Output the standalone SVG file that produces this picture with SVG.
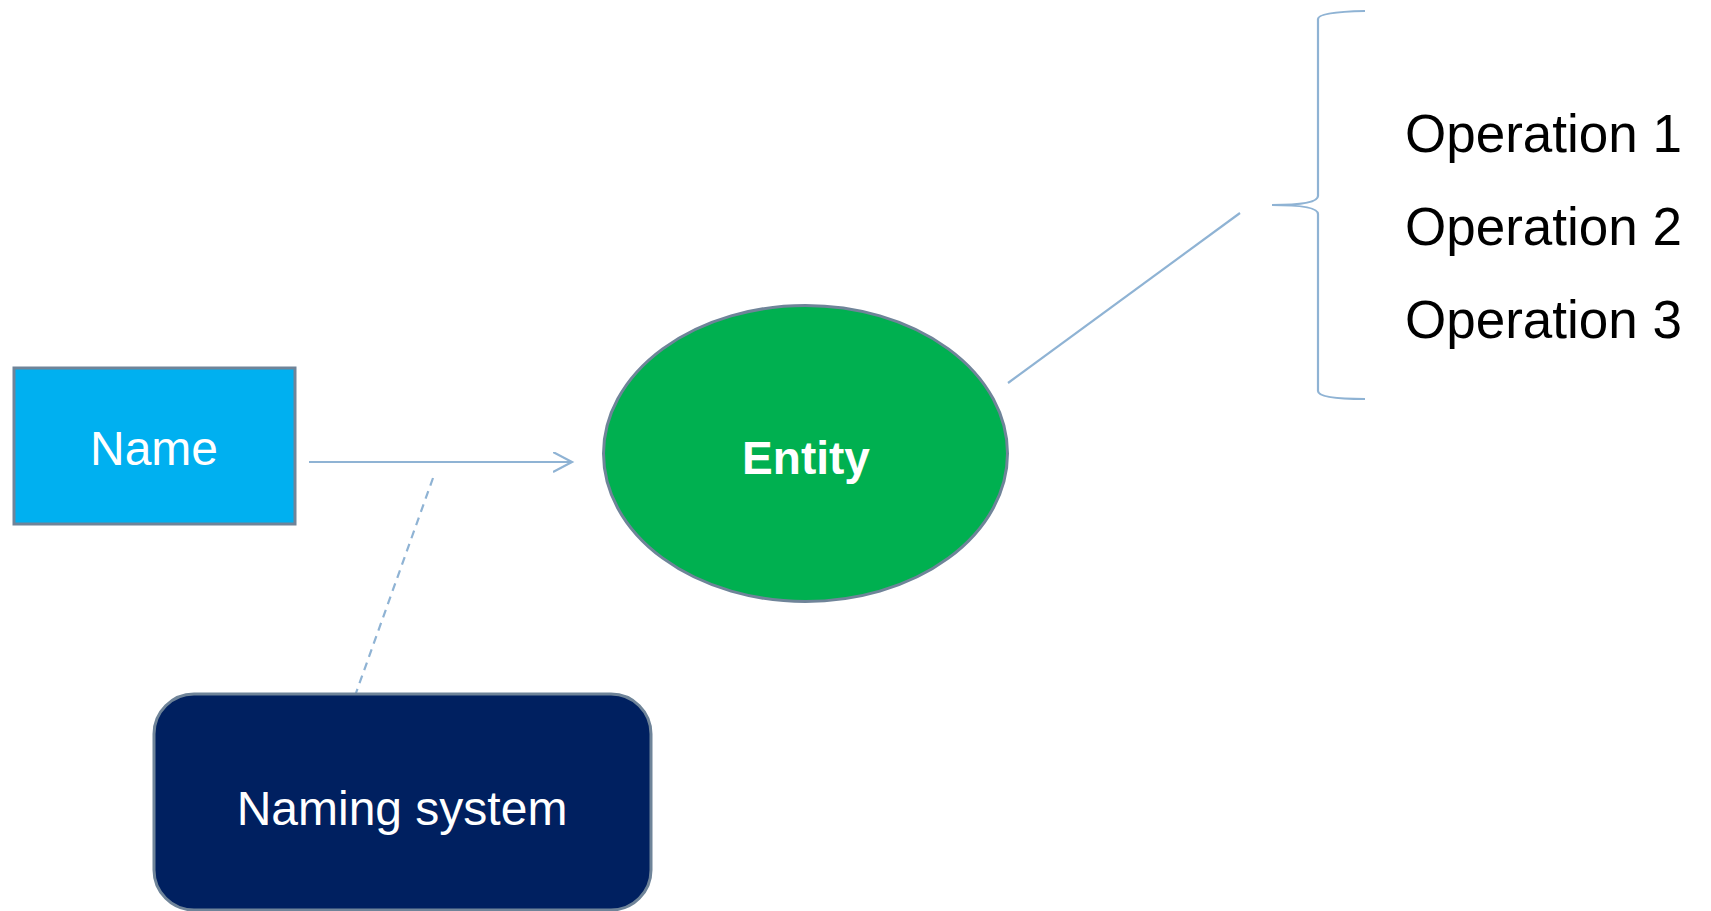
<svg xmlns="http://www.w3.org/2000/svg" width="1711" height="911" viewBox="0 0 1711 911">
<style>
.node-stroke{stroke:#6F8499;stroke-width:3}
.conn{fill:none;stroke:#8FB3D4;stroke-width:2.2}
.lbl{font-family:"Liberation Sans",Arial,sans-serif;fill:#FFFFFF;text-anchor:middle}
.op{font-family:"Liberation Sans",Arial,sans-serif;fill:#000000;font-size:53px}
</style>
<defs>
<marker id="open" markerWidth="24" markerHeight="24" refX="19" refY="10" orient="auto" markerUnits="userSpaceOnUse">
<path d="M0,0 L19,10 L0,20" fill="none" stroke="#8FB3D4" stroke-width="2.2"/>
</marker>
</defs>
<rect width="1711" height="911" fill="#FFFFFF"/>
<g id="connectors">
<line class="conn" x1="309" y1="462" x2="572" y2="462" marker-end="url(#open)"/>
<line class="conn" x1="433" y1="478" x2="356" y2="693" stroke-dasharray="8,6"/>
<line class="conn" x1="1008" y1="383" x2="1240" y2="213"/>
<path class="conn" d="M1365,11 Q1318,12 1318,19 L1318,196 Q1318,205 1272,205 Q1318,205 1318,214 L1318,391 Q1318,399 1365,399"/>
</g>
<g id="name">
<rect class="node-stroke" x="14" y="368" width="281" height="156" fill="#00B0F0"/>
<text class="lbl" x="154" y="465" font-size="48">Name</text>
</g>
<g id="entity">
<ellipse class="node-stroke" cx="805.5" cy="453.5" rx="202" ry="148" fill="#00B050"/>
<text class="lbl" x="806" y="474" font-size="46" font-weight="bold">Entity</text>
</g>
<g id="naming-system">
<rect class="node-stroke" x="154" y="694" width="497" height="216" rx="40" ry="40" fill="#002060"/>
<text class="lbl" x="402" y="825" font-size="48">Naming system</text>
</g>
<g id="operations">
<text class="op" x="1405" y="152">Operation 1</text>
<text class="op" x="1405" y="245">Operation 2</text>
<text class="op" x="1405" y="338">Operation 3</text>
</g>
</svg>
